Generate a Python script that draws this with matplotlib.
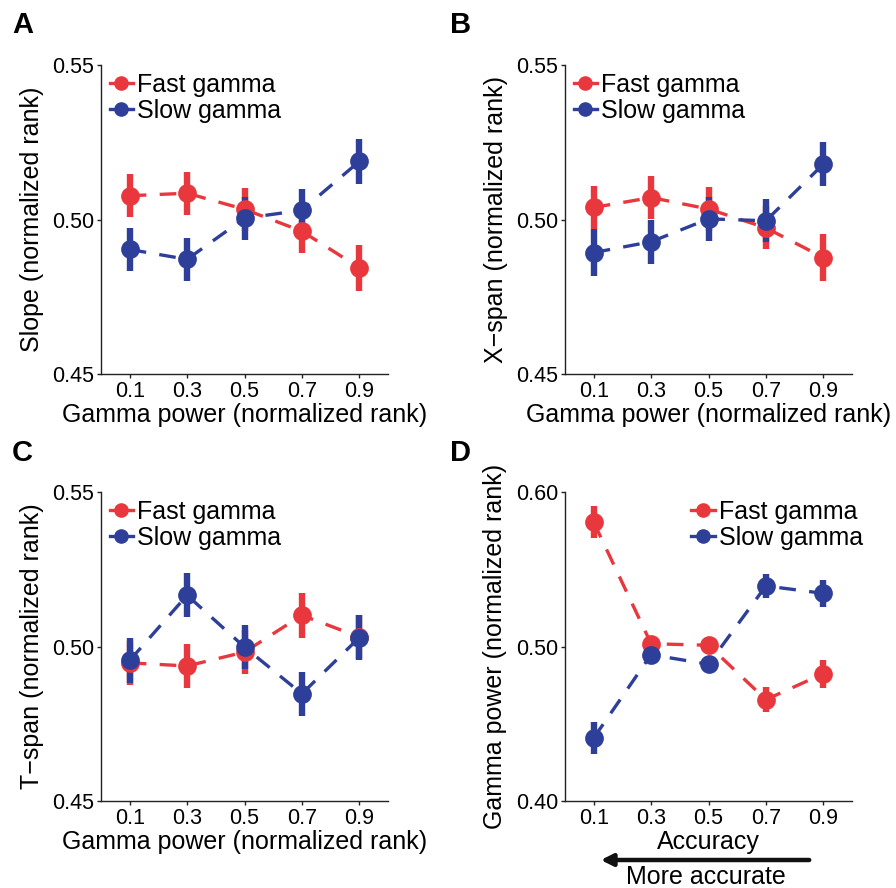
import matplotlib
matplotlib.use('Agg')
import matplotlib.pyplot as plt
from matplotlib.lines import Line2D

plt.rcParams['font.family'] = ['Liberation Sans', 'DejaVu Sans']

RED = '#e8383d'
BLUE = '#2e3f9a'

# gamma power bins (normalized rank)
x_bins = [0.1, 0.3, 0.5, 0.7, 0.9]

# A: slope
slope_fast = [0.5077, 0.5085, 0.5033, 0.4962, 0.4844]
slope_fast_err = [0.0070, 0.0070, 0.0070, 0.0070, 0.0075]
slope_slow = [0.4903, 0.4871, 0.5004, 0.5030, 0.5188]
slope_slow_err = [0.0071, 0.0070, 0.0070, 0.0070, 0.0072]

# B: x-span
xspan_fast = [0.5039, 0.5071, 0.5034, 0.4973, 0.4877]
xspan_fast_err = [0.0070, 0.0070, 0.0070, 0.0070, 0.0075]
xspan_slow = [0.4893, 0.4928, 0.5002, 0.4996, 0.5179]
xspan_slow_err = [0.0075, 0.0072, 0.0070, 0.0070, 0.0072]

# C: t-span
tspan_fast = [0.4947, 0.4937, 0.4982, 0.5101, 0.5031]
tspan_fast_err = [0.0070, 0.0072, 0.0070, 0.0073, 0.0072]
tspan_slow = [0.4955, 0.5166, 0.4998, 0.4847, 0.5029]
tspan_slow_err = [0.0072, 0.0072, 0.0072, 0.0072, 0.0072]

# D: gamma power vs accuracy
acc_fast = [0.5804, 0.5018, 0.5008, 0.4656, 0.4824]
acc_fast_err = [0.0104, 0.0040, 0.0040, 0.0080, 0.0090]
acc_slow = [0.4408, 0.4947, 0.4885, 0.5392, 0.5344]
acc_slow_err = [0.0105, 0.0040, 0.0040, 0.0080, 0.0088]


def draw_panel(ax, fast, fast_err, slow, slow_err, ylim, yticks, ylabel, xlabel, leg_x):
    for vals, errs, c in [(fast, fast_err, RED), (slow, slow_err, BLUE)]:
        ax.errorbar(x_bins, vals, yerr=errs, color=c, ecolor=c, elinewidth=4.6, capsize=0,
                    marker='o', markersize=13.5, linestyle=(0, (5, 4)), linewidth=2.4,
                    markeredgewidth=0)
    ax.set_xlim(0, 1)
    ax.set_ylim(*ylim)
    ax.set_xticks(x_bins)
    ax.set_xticklabels(['0.1', '0.3', '0.5', '0.7', '0.9'])
    ax.set_yticks(yticks)
    ax.set_yticklabels(['%.2f' % t for t in yticks])
    for s in ['top', 'right']:
        ax.spines[s].set_visible(False)
    for s in ['left', 'bottom']:
        ax.spines[s].set_linewidth(1.0)
        ax.spines[s].set_color('#222222')
    ax.tick_params(direction='out', length=3, width=1.0, labelsize=15.5, pad=2, color='#222222')
    ax.set_ylabel(ylabel, fontsize=18, labelpad=6)
    if xlabel:
        ax.set_xlabel(xlabel, fontsize=18, labelpad=1)
    handles = [Line2D([], [], color=RED, marker='o', markersize=9.5, linewidth=2.4),
               Line2D([], [], color=BLUE, marker='o', markersize=9.5, linewidth=2.4)]
    ax.legend(handles, ['Fast gamma', 'Slow gamma'], loc='upper left', bbox_to_anchor=(leg_x, 0.975),
              frameon=False, fontsize=18, handlelength=0.95, handletextpad=0.15,
              labelspacing=0.1, borderpad=0, borderaxespad=0)


fig = plt.figure(figsize=(8.96, 8.88), dpi=100)
W, H = 896.0, 888.0
axA = fig.add_axes([101 / W, 1 - 374 / H, 287 / W, 309 / H])
axB = fig.add_axes([565 / W, 1 - 374 / H, 287 / W, 309 / H])
axC = fig.add_axes([101 / W, 1 - 801 / H, 287 / W, 309 / H])
axD = fig.add_axes([565 / W, 1 - 801 / H, 287 / W, 309 / H])

xlab = 'Gamma power (normalized rank)'
draw_panel(axA, slope_fast, slope_fast_err, slope_slow, slope_slow_err,
           (0.45, 0.55), [0.45, 0.50, 0.55], 'Slope (normalized rank)', xlab, 0.03)
draw_panel(axB, xspan_fast, xspan_fast_err, xspan_slow, xspan_slow_err,
           (0.45, 0.55), [0.45, 0.50, 0.55], 'X\u2212span (normalized rank)', xlab, 0.03)
draw_panel(axC, tspan_fast, tspan_fast_err, tspan_slow, tspan_slow_err,
           (0.45, 0.55), [0.45, 0.50, 0.55], 'T\u2212span (normalized rank)', xlab, 0.03)
draw_panel(axD, acc_fast, acc_fast_err, acc_slow, acc_slow_err,
           (0.40, 0.60), [0.40, 0.50, 0.60], 'Gamma power (normalized rank)', None, 0.44)

# accuracy label + arrow under panel D
fig.text(708 / W, 1 - 842 / H, 'Accuracy', fontsize=18, ha='center', va='center')
fig.text(706 / W, 1 - 884 / H, 'More accurate', fontsize=18, ha='center', va='baseline')
fig.add_artist(matplotlib.patches.FancyArrowPatch((812 / W, 1 - 860 / H), (598 / W, 1 - 860 / H),
                                                  transform=fig.transFigure, arrowstyle='-|>,head_length=7,head_width=3.5',
                                                  linewidth=3.2, color='#111111', mutation_scale=1))

# panel letters
for lab, px, py in [('A', 12, 33), ('B', 450, 33), ('C', 12, 461), ('D', 450, 461)]:
    fig.text(px / W, 1 - py / H, lab, fontsize=21, fontweight='bold', ha='left', va='baseline')

fig.savefig('out.png', dpi=100)
